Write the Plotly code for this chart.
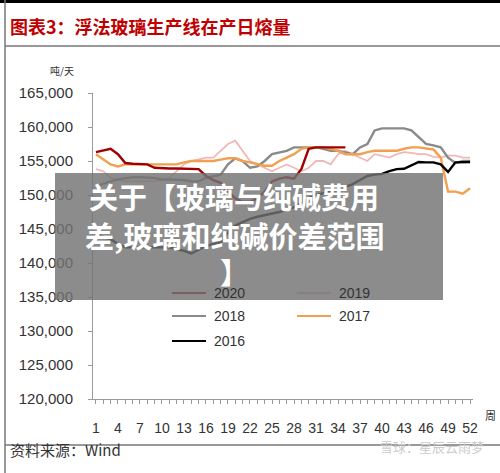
import plotly.graph_objects as go

weeks = list(range(1, 53))
y2020 = [156300,156600,156800,156000,154700,154600,154500,154500,154000,153900,
         153900,153900,153900,153900,153800,152800,152200,151800,150500,149500,
         149000,149000,149500,150500,152000,152400,152600,152400,153800,156800,
         157000,157000,157000,157000,157000] + [None]*17
y2019 = [153800,153500,152500,152200,152000,152000,152000,152000,152000,152200,
         152500,153500,154500,155000,155300,155500,155500,156500,157500,158000,
         156500,155000,154500,154000,153500,154000,154500,154000,153500,154000,
         155000,155000,154500,156000,156500,156000,155500,155000,156000,155800,
         155500,156000,156300,156200,156000,156000,155600,155500,155800,155800,
         155500,155500]
y2018 = [151300,151700,152000,152300,152500,152600,152600,152600,152500,152300,
         152300,152200,152200,152000,152000,152500,152800,153000,154500,155400,
         155000,154000,154200,155000,156000,156200,156500,157000,157000,157000,
         157000,156800,156500,156500,156200,156000,157000,157500,159500,159800,
         159800,159800,159800,159500,158500,157500,157300,157000,155500,154700,
         155000,155000]
y2017 = [156000,155200,154500,154200,154500,154500,154500,154500,154500,154500,
         154500,154500,154800,155000,155000,155000,155000,155200,155400,155400,
         155000,154800,154500,154300,154300,155000,155500,156000,156800,157000,
         157000,157000,156800,156500,156000,156000,156000,156300,156500,156500,
         156500,156500,156800,157000,157000,156900,156700,155500,150500,150500,
         150200,151000]
y2016 = [144400,143800,143500,142800,142300,142300,142300,142300,142300,142300,
         142300,142000,141800,141400,142000,142500,142800,143000,144500,145500,
         146000,146500,146800,147000,147200,147500,147800,148200,148800,149500,
         150000,150200,150500,150800,151200,151600,152200,152800,153000,153100,
         153500,153800,153850,154300,154850,154800,154800,154500,153400,154800,
         154850,154850]
series = [("2019", y2019, "#f2b8b8", 1.8), ("2018", y2018, "#8a8a8a", 2.4),
          ("2017", y2017, "#f0a050", 2.4), ("2016", y2016, "#000000", 2.4),
          ("2020", y2020, "#a00000", 2.4)]
x_ticks = list(range(1, 53, 3))
y_ticks = list(range(120000, 165001, 5000))

W, H = 500, 473
def px(x): return x / W
def py(y): return 1 - y / H

fig = go.Figure()
for name, ys, col, w in series:
    fig.add_trace(go.Scatter(x=weeks, y=ys, mode="lines", name=name,
                             line=dict(color=col, width=w), showlegend=False))

fig.update_layout(
    width=W, height=H, margin=dict(l=0, r=0, t=0, b=0, autoexpand=False),
    paper_bgcolor="white", plot_bgcolor="white",
    font=dict(family="Liberation Sans, Arial", color="#333"),
    xaxis=dict(domain=[px(93), px(473)], range=[0.6, 52.4], tickvals=x_ticks,
               showgrid=False, zeroline=False, showline=True, linecolor="#999",
               ticks="outside", ticklen=0, tickfont=dict(size=14),
               ticklabelstandoff=16, automargin=False),
    yaxis=dict(domain=[py(399), py(93)], range=[120000, 165000], tickvals=y_ticks,
               tickformat=",d", showgrid=False, zeroline=False, showline=True,
               linecolor="#999", ticks="outside", ticklen=4, tickcolor="#999",
               tickfont=dict(size=15), ticklabelstandoff=12, automargin=False),
)
fig.update_xaxes(minor=dict(tickvals=weeks, ticks="outside", ticklen=4, tickcolor="#999"))

shapes = []
ann = []
shapes += [dict(type="line", xref="paper", yref="paper", x0=0, x1=1, y0=py(1.5), y1=py(1.5), line=dict(color="black", width=3)),
           dict(type="line", xref="paper", yref="paper", x0=px(5), x1=px(5), y0=0, y1=1, line=dict(color="#777", width=1.5)),
           dict(type="line", xref="paper", yref="paper", x0=px(5), x1=1, y0=py(46), y1=py(46), line=dict(color="#777", width=1.5)),
           dict(type="line", xref="paper", yref="paper", x0=px(5), x1=1, y0=py(445), y1=py(445), line=dict(color="#777", width=1.5))]
ann.append(dict(text="<b>图表3：浮法玻璃生产线在产日熔量</b>", x=px(8), y=py(26), xref="paper", yref="paper",
                xanchor="left", yanchor="middle", showarrow=False,
                font=dict(size=18, color="#c00000", family="Noto Sans CJK SC")))
ann.append(dict(text="吨/天", x=px(48), y=py(70), xref="paper", yref="paper", xanchor="left",
                yanchor="middle", showarrow=False, font=dict(size=10, color="#333", family="Noto Sans CJK SC")))
ann.append(dict(text="周", x=px(490), y=py(425), xref="paper", yref="paper", xanchor="center",
                showarrow=False, font=dict(size=11, color="#333", family="Noto Sans CJK SC")))
ann.append(dict(text="资料来源：Wind", x=px(8), y=py(462), xref="paper", yref="paper", xanchor="left",
                showarrow=False, font=dict(size=15, color="#333", family="Noto Sans CJK SC")))
ann.append(dict(text="雪球：星辰云雨梦", x=px(486), y=py(458), xref="paper", yref="paper", xanchor="right",
                showarrow=False, font=dict(size=13, color="#ccc", family="Noto Sans CJK SC")))
leg = [("2020", "#a00000", 172, 293), ("2019", "#f2b8b8", 297, 293),
       ("2018", "#8a8a8a", 172, 316), ("2017", "#f0a050", 297, 316),
       ("2016", "#000000", 172, 341)]
for name, col, x0, y0 in leg:
    shapes.append(dict(type="line", xref="paper", yref="paper", x0=px(x0), x1=px(x0 + 34),
                       y0=py(y0), y1=py(y0), line=dict(color=col, width=2)))
    ann.append(dict(text=name, x=px(x0 + 40), y=py(y0), xref="paper", yref="paper",
                    xanchor="left", yanchor="middle", showarrow=False, font=dict(size=14, color="#333")))
shapes.append(dict(type="rect", xref="paper", yref="paper", x0=px(55), x1=px(443), y0=py(300), y1=py(173),
                   fillcolor="rgba(115,115,115,0.82)", line=dict(width=0), layer="above"))
for t, yy in [("关于【玻璃与纯碱费用", 196), ("差,玻璃和纯碱价差范围", 235), ("】", 271)]:
    ann.append(dict(text="<b>" + t + "</b>", x=px(234), y=py(yy), xref="paper", yref="paper",
                    xanchor="center", yanchor="middle", showarrow=False,
                    font=dict(size=29, color="white", family="Noto Sans CJK SC")))
fig.update_layout(shapes=shapes, annotations=ann)
fig.write_html("out.html", config={"displayModeBar": False},
               post_script="document.body.style.margin='0';document.body.style.overflow='hidden';")
